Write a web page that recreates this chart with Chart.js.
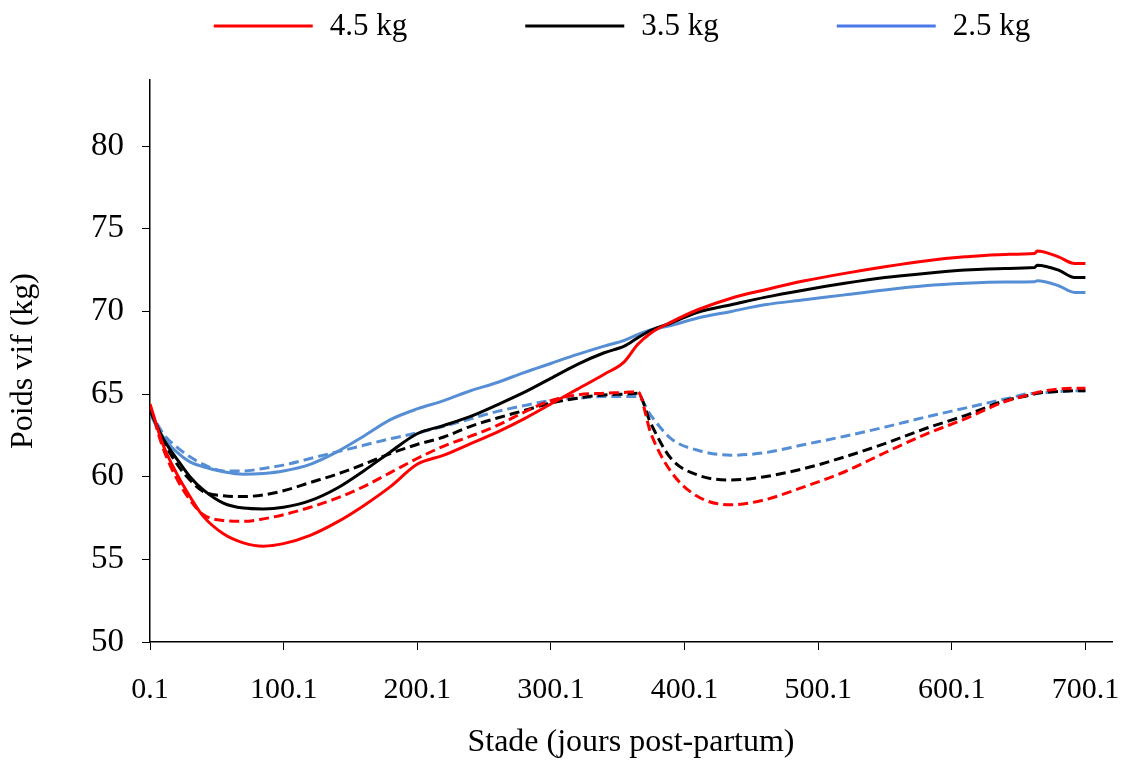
<!DOCTYPE html>
<html>
<head>
<meta charset="utf-8">
<script src="https://cdn.jsdelivr.net/npm/chart.js@4/dist/chart.umd.min.js"></script>
<style>
  html, body { margin: 0; padding: 0; background: #fff; }
  #wrap { width: 1128px; height: 762px; position: relative; }
</style>
</head>
<body>
<div id="wrap"><canvas id="chart-poids"></canvas></div>
<script>
const jours = [0.1, 10, 20, 30, 40, 55, 70, 85, 100, 120, 140, 160, 180, 200, 220, 240, 260, 280, 300, 320, 340, 355, 365, 375, 390, 410, 435, 460, 490, 520, 550, 580, 610, 640, 662, 664, 680, 692, 700.1];

const rouge = [64.4, 61.9, 60.2, 58.8, 57.6, 56.55, 56.0, 55.8, 55.95, 56.45, 57.25, 58.25, 59.4, 60.75, 61.3, 62.0, 62.7, 63.5, 64.4, 65.3, 66.2, 66.95, 68.0, 68.7, 69.35, 70.1, 70.8, 71.3, 71.85, 72.3, 72.7, 73.05, 73.3, 73.45, 73.5, 73.65, 73.3, 72.9, 72.9];
const noir = [64.0, 62.3, 61.1, 60.0, 59.2, 58.4, 58.1, 58.05, 58.15, 58.55, 59.3, 60.35, 61.5, 62.6, 63.1, 63.65, 64.35, 65.1, 65.95, 66.8, 67.5, 67.9, 68.4, 68.85, 69.3, 69.95, 70.4, 70.85, 71.3, 71.7, 72.05, 72.3, 72.5, 72.6, 72.65, 72.8, 72.5, 72.05, 72.05];
const bleu = [63.8, 62.4, 61.5, 60.9, 60.6, 60.3, 60.15, 60.2, 60.35, 60.75, 61.5, 62.45, 63.45, 64.1, 64.6, 65.2, 65.7, 66.3, 66.85, 67.4, 67.9, 68.25, 68.6, 68.9, 69.15, 69.6, 70.0, 70.4, 70.7, 71.0, 71.3, 71.55, 71.7, 71.78, 71.8, 71.85, 71.55, 71.15, 71.15];

const rougeTirets = [64.3, 61.7, 59.9, 58.6, 57.7, 57.35, 57.3, 57.45, 57.7, 58.15, 58.7, 59.4, 60.25, 61.1, 61.85, 62.45, 63.1, 63.9, 64.6, 64.95, 65.05, 65.1, 65.15, 62.6, 60.3, 58.8, 58.3, 58.6, 59.4, 60.3, 61.45, 62.55, 63.5, 64.55, 65.05, 65.1, 65.3, 65.35, 65.35];
const noirTirets = [64.1, 62.2, 60.8, 59.8, 59.1, 58.85, 58.8, 58.9, 59.15, 59.65, 60.15, 60.75, 61.4, 61.95, 62.4, 63.05, 63.55, 64.0, 64.45, 64.75, 64.95, 65.0, 65.05, 63.2, 61.1, 60.1, 59.8, 60.0, 60.5, 61.2, 62.0, 62.9, 63.7, 64.6, 65.0, 65.05, 65.15, 65.2, 65.2];
const bleuTirets = [64.0, 62.6, 61.8, 61.2, 60.75, 60.35, 60.35, 60.5, 60.7, 61.1, 61.5, 61.9, 62.3, 62.65, 63.05, 63.5, 63.95, 64.3, 64.6, 64.75, 64.85, 64.85, 64.85, 63.7, 62.3, 61.6, 61.3, 61.45, 61.95, 62.45, 63.0, 63.6, 64.15, 64.7, 65.05, 65.05, 65.15, 65.2, 65.2];

const etiquettes = ['4.5 kg', '3.5 kg', '2.5 kg'];
const ticksX = [0.1, 100.1, 200.1, 300.1, 400.1, 500.1, 600.1, 700.1];
const ticksY = [50, 55, 60, 65, 70, 75, 80];

const ROUGE = '#ff0000';
const NOIR = '#000000';
const BLEU = '#558ed5';
const BLEU_LEGENDE = '#4a78e8';
const POLICE = "'Liberation Serif', 'Times New Roman', serif";

function serie(valeurs) {
  return jours.map((j, i) => ({ x: j, y: valeurs[i] }));
}

function ligne(label, valeurs, couleur, tirets) {
  return {
    label,
    data: serie(valeurs),
    borderColor: couleur,
    backgroundColor: couleur,
    borderWidth: 3,
    borderDash: tirets ? [10, 5] : [],
    pointRadius: 0,
    cubicInterpolationMode: 'monotone',
    fill: false
  };
}

// legende du haut : seulement les trois courbes pleines
const legendeHaut = {
  id: 'legendeHaut',
  afterDraw(chart) {
    const c = chart.ctx;
    const items = chart.data.datasets.slice(0, 3);
    c.save();
    c.font = `31px ${POLICE}`;
    c.textBaseline = 'middle';
    c.fillStyle = '#000';
    const larg = items.map(d => 99 + 17 + c.measureText(d.label).width);
    const total = larg.reduce((a, b) => a + b, 0) + 118 * (items.length - 1);
    let x = 622 - total / 2;
    const y = 26;
    items.forEach((d, i) => {
      c.strokeStyle = i === 2 ? BLEU_LEGENDE : d.borderColor;
      c.lineWidth = 3;
      c.beginPath();
      c.moveTo(x, y);
      c.lineTo(x + 99, y);
      c.stroke();
      c.fillText(d.label, x + 99 + 17, y + 1);
      x += larg[i] + 118;
    });
    c.restore();
  }
};

const ctx = document.getElementById('chart-poids');
new Chart(ctx, {
  type: 'line',
  data: {
    datasets: [
      ligne(etiquettes[0], rouge, ROUGE, false),
      ligne(etiquettes[1], noir, NOIR, false),
      ligne(etiquettes[2], bleu, BLEU, false),
      ligne('', rougeTirets, ROUGE, true),
      ligne('', noirTirets, NOIR, true),
      ligne('', bleuTirets, BLEU, true)
    ]
  },
  plugins: [legendeHaut],
  options: {
    responsive: true,
    maintainAspectRatio: false,
    animation: false,
    layout: { padding: { left: 0, right: 16, top: 80, bottom: 0 } },
    plugins: {
      legend: { display: false },
      tooltip: { enabled: false }
    },
    scales: {
      x: {
        type: 'linear',
        min: 0.1,
        max: 720,
        afterBuildTicks: axis => { axis.ticks = ticksX.map(v => ({ value: v })); },
        afterFit: axis => {
          axis.height = 120;
          axis.paddingLeft = 0;
          axis.paddingRight = 0;
        },
        ticks: {
          color: '#000',
          font: { family: POLICE, size: 30 },
          padding: 22,
          maxRotation: 0,
          autoSkip: false,
          callback: v => Number(v).toFixed(1)
        },
        grid: { display: true, drawOnChartArea: false, drawTicks: true, tickLength: 8, color: '#000', lineWidth: 1 },
        border: { display: true, color: '#000', width: 1.5 },
        title: {
          display: true,
          text: 'Stade (jours post-partum)',
          color: '#000',
          font: { family: POLICE, size: 32 },
          padding: { top: 0, bottom: 0 }
        }
      },
      y: {
        min: 50,
        max: 84,
        afterBuildTicks: axis => { axis.ticks = ticksY.map(v => ({ value: v })); },
        afterFit: axis => { axis.width = 150; },
        ticks: {
          color: '#000',
          font: { family: POLICE, size: 33 },
          padding: 18
        },
        grid: { display: true, drawOnChartArea: false, drawTicks: true, tickLength: 8, color: '#000', lineWidth: 1 },
        border: { display: true, color: '#000', width: 1.5 },
        title: {
          display: true,
          text: 'Poids vif (kg)',
          color: '#000',
          font: { family: POLICE, size: 32 },
          padding: { top: 4, bottom: 0 }
        }
      }
    }
  }
});
</script>
</body>
</html>
